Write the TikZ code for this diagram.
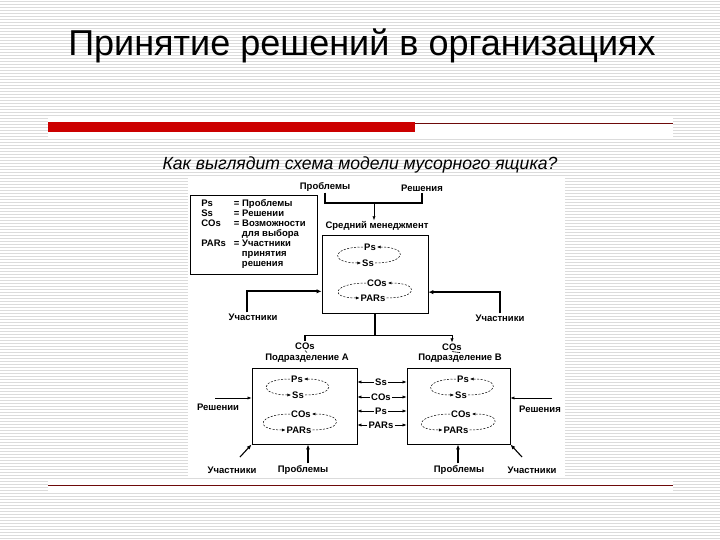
\documentclass[tikz,border=0pt]{standalone}
\usepackage{fontspec}
\setmainfont{Liberation Sans}
\usetikzlibrary{arrows.meta,calc}
\definecolor{slidered}{HTML}{CC0000}
\definecolor{ruledark}{HTML}{6E0A0A}

\begin{document}
\begin{tikzpicture}[x=1pt,y=-1pt,
    font=\fontsize{9.5}{10}\selectfont\bfseries,
    lbl/.style={inner sep=1pt},
    unit/.style={rectangle,draw=black,line width=0.8pt},
    keybox/.style={rectangle,draw=black,line width=0.7pt,
        minimum width=127pt,minimum height=79pt,inner sep=2pt},
    line/.style={draw=black,line width=0.6pt},
    bold/.style={draw=black,line width=1.7pt},
    arrow/.style={line,-{Latex[length=4pt,width=3.2pt]}},
    midarrow/.style={draw=black,line width=1.1pt,-{Latex[length=5pt,width=4pt]}},
    boldarrow/.style={bold,-{Latex[length=5pt,width=4.5pt]}},
    loopline/.style={draw=black,line width=0.5pt,dash pattern=on 2pt off 1.5pt,
        -{Latex[length=3.5pt,width=3pt]}},
    stripe/.style={draw=gray!28,line width=0.9pt}
]
\useasboundingbox (0,0) rectangle (720,540);
\fill[white] (0,0) rectangle (720,540);
\foreach \y in {1.5,4.5,...,540} \draw[stripe] (0,\y) -- (720,\y);
\fill[white] (188,176) rectangle (565,478);
\fill[white] (48,117) rectangle (673,137);
\fill[white] (48,480) rectangle (673,491);

\node[font=\fontsize{36}{42}\selectfont] (title) at (362,46) {Принятие решений в организациях};
\fill[slidered] (48,122.5) rectangle (415,132);
\draw[ruledark,line width=0.8pt] (415,123.3) -- (673,123.3);
\node[font=\fontsize{17.6}{21}\selectfont\itshape] (subtitle) at (360,165) {Как выглядит схема модели мусорного ящика?};
\draw[ruledark,line width=0.8pt] (48,485) -- (673,485);

\node[keybox] (key) at (253.5,234.5) {%
    \begin{tabular}{@{}l@{\hspace{8pt}}l@{}}
    Ps & = Проблемы\\
    Ss & = Решении\\
    COs & = Возможности\\
        & \hspace{8pt}для выбора\\
    PARs & = Участники\\
         & \hspace{8pt}принятия\\
         & \hspace{8pt}решения
    \end{tabular}};

\node[lbl] (probtop) at (325,187) {Проблемы};
\node[lbl] (soltop) at (422,188) {Решения};
\node[lbl] (midtitle) at (377,226) {Средний менеджмент};
\node[unit,minimum width=106pt,minimum height=78pt] (mid) at (375,274) {};
\node[lbl] (mps) at (370,247) {Ps};
\node[lbl] (mss) at (368,263) {Ss};
\node[lbl] (mcos) at (377,283) {COs};
\node[lbl] (mpars) at (373,298) {PARs};
\node[lbl] (partl) at (253,317) {Участники};
\node[lbl] (partr) at (500,318) {Участники};

\node[lbl] (cosa) at (305,346) {COs};
\node[lbl] (cosb) at (452,347) {COs};
\node[lbl] (diva) at (307,358) {Подразделение А};
\node[lbl] (divb) at (460,358) {Подразделение В};
\node[unit,minimum width=105pt,minimum height=76pt] (boxa) at (304.5,406) {};
\node[unit,minimum width=103pt,minimum height=76pt] (boxb) at (458.5,406) {};
\node[lbl] (aps) at (297,379) {Ps};
\node[lbl] (ass) at (298,395) {Ss};
\node[lbl] (acos) at (301,414) {COs};
\node[lbl] (apars) at (299,430) {PARs};
\node[lbl] (bps) at (463,379) {Ps};
\node[lbl] (bss) at (461,395) {Ss};
\node[lbl] (bcos) at (461,414) {COs};
\node[lbl] (bpars) at (456,430) {PARs};

\node[lbl] (xss) at (381,382) {Ss};
\node[lbl] (xcos) at (381,397) {COs};
\node[lbl] (xps) at (381,411) {Ps};
\node[lbl] (xpars) at (381,425) {PARs};

\node[lbl] (sola) at (218,407) {Решении};
\node[lbl] (solb) at (540,409) {Решения};
\node[lbl] (partbl) at (232,470) {Участники};
\node[lbl] (probbl) at (303,470) {Проблемы};
\node[lbl] (probbr) at (459,470) {Проблемы};
\node[lbl] (partbr) at (532,470) {Участники};

\coordinate (join) at (374,203);
\draw[bold] (probtop.south) |- (join) -| (soltop.south);
\draw[arrow] (join) -- (join |- midtitle.north);

\foreach \t/\b in {mps/mss,mcos/mpars,aps/ass,acos/apars,bps/bss,bcos/bpars} {
    \draw[loopline] (\b.east) .. controls +(32,0) and +(32,0) .. (\t.east);
    \draw[loopline] (\t.west) .. controls +(-32,0) and +(-32,0) .. (\b.west);
}

\draw[boldarrow] ($(partl.north)+(-6,0)$) |- ($(mid.south west)!0.28!(mid.north west)$);
\draw[boldarrow] (partr.north) |- ($(mid.south east)!0.27!(mid.north east)$);

\coordinate (split) at ($(mid.south)+(0,22)$);
\draw[bold] (mid.south) -- (split);
\draw[bold] (split) -| (cosa.north);
\draw[bold] (split) -- (split -| cosb.north);
\draw[arrow] (split -| cosb.north) -- (cosb.north);
\draw[line] (cosa.south) -- (diva.north);
\draw[line] (cosb.south) -- (divb.north);

\foreach \n in {xss,xcos,xps,xpars} {
    \draw[arrow] (\n.west) -- (\n.west -| boxa.east);
    \draw[arrow] (\n.east) -- (\n.east -| boxb.west);
}

\coordinate (solastart) at (215,398);
\coordinate (solbstart) at (552,398);
\draw[arrow] (solastart) -- (solastart -| boxa.west);
\draw[arrow] (solbstart) -- (solbstart -| boxb.east);

\coordinate (pa) at ($(probbl.north)+(5,-1)$);
\coordinate (pb) at ($(probbr.north)+(-1,-1)$);
\coordinate (ua) at (240,457);
\coordinate (ub) at (522,457);
\draw[midarrow] (pa) -- (pa |- boxa.south);
\draw[midarrow] (pb) -- (pb |- boxb.south);
\draw[midarrow] (ua) -- (boxa.south west);
\draw[midarrow] (ub) -- (boxb.south east);
\end{tikzpicture}
\end{document}
